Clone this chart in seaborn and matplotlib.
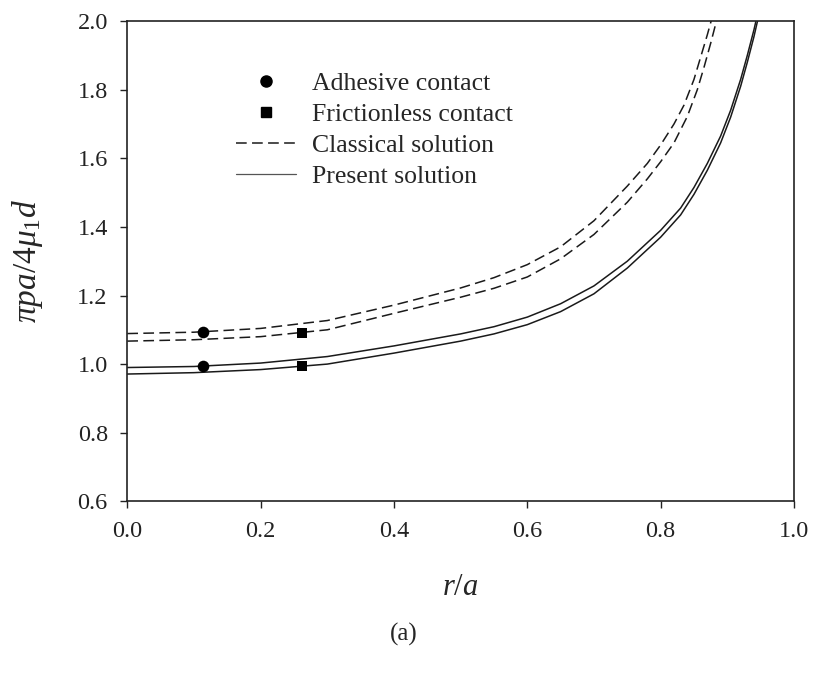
import numpy as np
import pandas as pd
import seaborn as sns
import matplotlib.pyplot as plt
from matplotlib.lines import Line2D

# classical solution, adhesive (upper dashed)
x_cl_adh = [0.0, 0.1, 0.2, 0.3, 0.4, 0.5, 0.55, 0.6, 0.65, 0.7, 0.75, 0.78, 0.8, 0.82, 0.835, 0.85, 0.86, 0.87, 0.88]
y_cl_adh = [1.089, 1.093, 1.104, 1.127, 1.172, 1.222, 1.252, 1.290, 1.342, 1.418, 1.519, 1.585, 1.639, 1.700, 1.755, 1.830, 1.895, 1.960, 2.03]

# classical solution, frictionless (lower dashed)
x_cl_fr = [0.0, 0.1, 0.2, 0.3, 0.4, 0.5, 0.55, 0.6, 0.65, 0.7, 0.75, 0.78, 0.8, 0.82, 0.84, 0.855, 0.865, 0.875, 0.885]
y_cl_fr = [1.067, 1.071, 1.080, 1.100, 1.148, 1.195, 1.221, 1.254, 1.307, 1.378, 1.472, 1.540, 1.590, 1.645, 1.722, 1.800, 1.865, 1.935, 2.01]

# present solution, adhesive (upper solid)
x_pr_adh = [0.0, 0.1, 0.2, 0.3, 0.4, 0.5, 0.55, 0.6, 0.65, 0.7, 0.75, 0.8, 0.83, 0.85, 0.87, 0.89, 0.905, 0.92, 0.93, 0.94, 0.95]
y_pr_adh = [0.990, 0.993, 1.003, 1.022, 1.053, 1.088, 1.109, 1.137, 1.176, 1.228, 1.300, 1.390, 1.455, 1.515, 1.585, 1.665, 1.740, 1.830, 1.900, 1.975, 2.06]

# present solution, frictionless (lower solid)
x_pr_fr = [0.0, 0.1, 0.2, 0.3, 0.4, 0.5, 0.55, 0.6, 0.65, 0.7, 0.75, 0.8, 0.83, 0.85, 0.87, 0.89, 0.905, 0.92, 0.93, 0.94, 0.95]
y_pr_fr = [0.971, 0.975, 0.984, 1.000, 1.032, 1.067, 1.088, 1.115, 1.153, 1.205, 1.280, 1.370, 1.435, 1.495, 1.565, 1.645, 1.720, 1.810, 1.880, 1.955, 2.04]

# marker points
x_adh_pts = [0.114, 0.114]
y_adh_pts = [1.094, 0.994]
x_fr_pts = [0.262, 0.262]
y_fr_pts = [1.092, 0.993]

legend_labels = ['Adhesive contact', 'Frictionless contact', 'Classical solution', 'Present solution']

sns.set_style('ticks')
plt.rcParams['font.family'] = ['Liberation Serif', 'DejaVu Serif']
plt.rcParams['mathtext.fontset'] = 'custom'
plt.rcParams['mathtext.rm'] = 'Liberation Serif'
plt.rcParams['mathtext.it'] = 'Liberation Serif:italic'

fig = plt.figure(figsize=(8.16, 6.82), dpi=100)
ax = fig.add_axes([0.156, 0.265, 0.817, 0.704])

col = '#1a1a1a'
dash = (0, (7, 3.5))
sns.lineplot(x=x_cl_adh, y=y_cl_adh, ax=ax, color=col, lw=1.1, linestyle=dash)
sns.lineplot(x=x_cl_fr, y=y_cl_fr, ax=ax, color=col, lw=1.1, linestyle=dash)
sns.lineplot(x=x_pr_adh, y=y_pr_adh, ax=ax, color=col, lw=1.1)
sns.lineplot(x=x_pr_fr, y=y_pr_fr, ax=ax, color=col, lw=1.1)

sns.scatterplot(x=x_adh_pts, y=y_adh_pts, ax=ax, marker='o', s=70, color='black',
                linewidth=0, zorder=4)
sns.scatterplot(x=x_fr_pts, y=y_fr_pts, ax=ax, marker='s', s=55, color='black',
                linewidth=0, zorder=4)

ax.set_xlim(0, 1.0)
ax.set_ylim(0.6, 2.0)
ax.set_xticks(np.arange(0, 1.01, 0.2))
ax.set_yticks(np.arange(0.6, 2.01, 0.2))
ax.set_xticklabels([f'{v:.1f}' for v in np.arange(0, 1.01, 0.2)])
ax.set_yticklabels([f'{v:.1f}' for v in np.arange(0.6, 2.01, 0.2)])
ax.tick_params(direction='out', length=5, width=1, labelsize=17.5, pad=9, colors='#222222')
for sp in ax.spines.values():
    sp.set_linewidth(1.2)
    sp.set_color('#222222')

ax.set_xlabel(r'$r/a$', fontsize=22)
ax.xaxis.set_label_coords(0.5, -0.15)
ax.set_ylabel(r'$\pi pa/4\mu_1 d$', fontsize=24)
ax.yaxis.set_label_coords(-0.123, 0.5)

handles = [
    Line2D([], [], marker='o', ls='none', color='black', markersize=8),
    Line2D([], [], marker='s', ls='none', color='black', markersize=7),
    Line2D([], [], color=col, lw=1.1, linestyle=dash),
    Line2D([], [], color='#555555', lw=0.9),
]
ax.legend(handles, legend_labels, loc='upper left', bbox_to_anchor=(0.163, 0.895),
          frameon=False, fontsize=18.5, handlelength=2.35, handletextpad=0.6,
          labelspacing=0.32, borderpad=0, borderaxespad=0)

fig.text(0.495, 0.069, '(a)', fontsize=18, ha='center', va='center')

fig.savefig('out.png', dpi=100)
